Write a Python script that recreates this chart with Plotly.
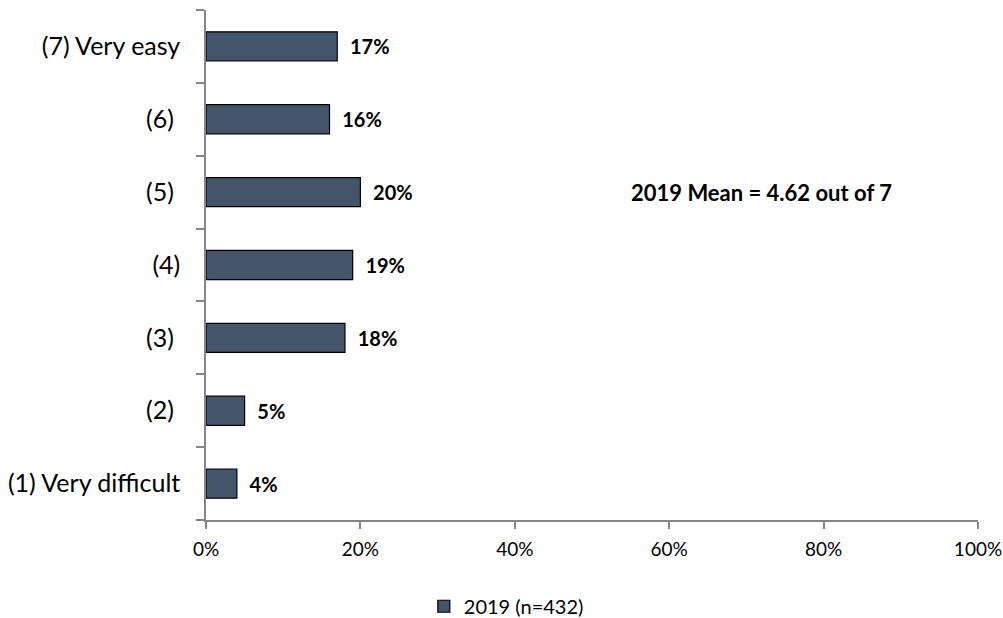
import plotly.graph_objects as go

# Ease rating distribution, bottom (1) to top (7)
categories = [
    "(1) Very difficult",
    "(2)\u00a0",
    "(3)\u00a0",
    "(4)",
    "(5)\u00a0",
    "(6)\u00a0",
    "(7) Very easy",
]
share_2019 = [4, 5, 18, 19, 20, 16, 17]
series_name = "2019 (n=432)"
mean_note = "2019 Mean = 4.62 out of 7"
mean_row = "(5)\u00a0"
x_ticks = [0, 20, 40, 60, 80, 100]
x_tick_labels = [f"{v}%" for v in x_ticks]

FONT = "Lato"
AXIS_GREY = "#868686"

fig = go.Figure()
fig.add_trace(go.Bar(
    y=categories,
    x=share_2019,
    orientation="h",
    width=0.4,
    name=series_name,
    marker=dict(color="#44546A", line=dict(color="#000000", width=1.2)),
    text=[f"\u00a0\u00a0{v}%" for v in share_2019],
    textposition="outside",
    constraintext="none",
    cliponaxis=False,
    textfont=dict(family=FONT, size=20, color="#000000", weight="bold"),
    showlegend=True,
))

fig.add_annotation(
    x=71.9, y=mean_row, xref="x", yref="y",
    text=f"<b>{mean_note}</b>",
    showarrow=False,
    font=dict(family=FONT, size=22, color="#000000"),
)

fig.update_layout(
    width=1003, height=618,
    margin=dict(l=206, r=25, t=10, b=98, autoexpand=False),
    paper_bgcolor="#ffffff",
    plot_bgcolor="#ffffff",
    font=dict(family=FONT, color="#000000"),
    bargap=0.6,
    legend=dict(
        orientation="h",
        x=0.389, xanchor="center", xref="paper",
        y=0.019, yanchor="middle", yref="container",
        font=dict(family=FONT, size=20, color="#000000"),
        itemwidth=30,
    ),
    xaxis=dict(
        range=[0, 100],
        tickmode="array",
        tickvals=x_ticks,
        ticktext=x_tick_labels,
        automargin=False,
        showgrid=False,
        zeroline=False,
        showline=True,
        linecolor=AXIS_GREY,
        linewidth=1.5,
        ticks="outside",
        ticklen=7,
        tickcolor=AXIS_GREY,
        tickwidth=1.5,
        ticklabelstandoff=4,
        tickfont=dict(family=FONT, size=19, color="#000000"),
    ),
    yaxis=dict(
        type="category",
        categoryorder="array",
        categoryarray=categories,
        range=[-0.5, 6.5],
        automargin=False,
        showgrid=False,
        zeroline=False,
        showline=True,
        linecolor=AXIS_GREY,
        linewidth=1.5,
        ticks="outside",
        ticklen=8,
        tickcolor=AXIS_GREY,
        tickwidth=1.5,
        tickson="boundaries",
        ticklabelstandoff=19,
        tickfont=dict(family=FONT, size=25, color="#000000"),
    ),
)

fig.write_html("out.html")
